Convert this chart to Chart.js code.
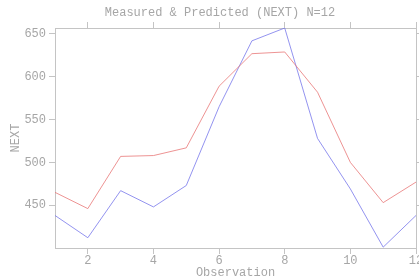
<!DOCTYPE html>
<html>
<head>
<meta charset="utf-8">
<script src="https://cdn.jsdelivr.net/npm/chart.js@4/dist/chart.umd.min.js"></script>
<style>
  html, body { margin: 0; padding: 0; background: #fff; overflow: hidden; }
  #wrap { width: 419px; height: 277px; overflow: hidden; }
</style>
</head>
<body>
<div id="wrap"><canvas id="chart" width="440" height="277"></canvas></div>
<script>
const observations = [1, 2, 3, 4, 5, 6, 7, 8, 9, 10, 11, 12];
const measured = [438, 412, 467, 448, 473, 565, 642, 657, 528, 469, 401, 438];
const predicted = [465, 446, 507, 508, 517, 589, 627, 629, 582, 500, 453, 477];
const xTicks = [2, 4, 6, 8, 10, 12];
const yTicks = [450, 500, 550, 600, 650];

const axisGray = '#c4c4c4';
const textGray = '#a6a6a6';
const monoFont = { family: '"Liberation Mono", "DejaVu Sans Mono", monospace', size: 12 };

function toPoints(values) {
    return observations.map((x, i) => ({ x: x, y: values[i] }));
}

function setTicks(list) {
    return function(scale) {
        scale.ticks = list.map(v => ({ value: v }));
    };
}

const frame = {
    display: true,
    drawOnChartArea: false,
    drawTicks: true,
    tickLength: 6,
    color: axisGray
};

new Chart(document.getElementById('chart'), {
    type: 'line',
    data: {
        datasets: [
            {
                label: 'Predicted',
                data: toPoints(predicted),
                borderColor: 'rgba(232, 120, 120, 0.8)',
                borderWidth: 1,
                pointRadius: 0,
                tension: 0
            },
            {
                label: 'Measured',
                data: toPoints(measured),
                borderColor: 'rgba(120, 120, 235, 0.8)',
                borderWidth: 1,
                pointRadius: 0,
                tension: 0
            }
        ]
    },
    options: {
        responsive: false,
        animation: false,
        devicePixelRatio: 1,
        layout: { padding: 0 },
        plugins: {
            legend: { display: false },
            tooltip: { enabled: false },
            title: {
                display: true,
                text: 'Measured & Predicted (NEXT) N=12',
                color: textGray,
                font: Object.assign({ weight: 'normal' }, monoFont),
                padding: { top: 6, bottom: 2 }
            }
        },
        scales: {
            x: {
                type: 'linear',
                position: 'bottom',
                min: 1,
                max: 12,
                afterBuildTicks: setTicks(xTicks),
                afterFit: s => { s.height = 29; },
                grid: frame,
                border: { display: true, color: axisGray },
                ticks: { color: textGray, font: monoFont, padding: 0, maxRotation: 0 },
                title: {
                    display: true,
                    text: 'Observation',
                    color: textGray,
                    font: monoFont,
                    padding: { top: 0, bottom: -3 }
                }
            },
            x2: {
                type: 'linear',
                position: 'top',
                min: 1,
                max: 12,
                afterBuildTicks: setTicks(xTicks),
                afterFit: s => { s.height = 5.6; },
                grid: frame,
                border: { display: true, color: axisGray },
                ticks: { display: false }
            },
            y: {
                type: 'linear',
                position: 'left',
                min: 400,
                max: 657,
                afterBuildTicks: setTicks(yTicks),
                afterFit: s => { s.width = 55; },
                grid: frame,
                border: { display: true, color: axisGray },
                ticks: { color: textGray, font: monoFont, padding: 3 },
                title: {
                    display: true,
                    text: 'NEXT',
                    color: textGray,
                    font: monoFont,
                    padding: { top: 9, bottom: 0 }
                }
            },
            y2: {
                type: 'linear',
                position: 'right',
                min: 400,
                max: 657,
                afterBuildTicks: setTicks(yTicks),
                afterFit: s => { s.width = 24; },
                grid: frame,
                border: { display: true, color: axisGray },
                ticks: { display: false }
            }
        }
    }
});
</script>
</body>
</html>
